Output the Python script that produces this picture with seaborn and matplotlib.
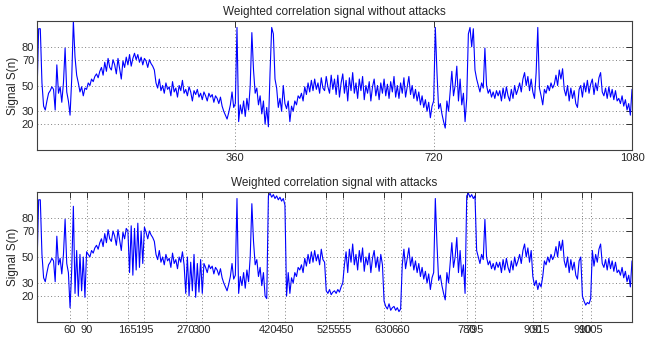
import numpy as np
import pandas as pd
import matplotlib
matplotlib.use("Agg")
import matplotlib.pyplot as plt
import seaborn as sns

# sample positions n (every 3 samples, 0..1080)
n_values = list(range(0, 1081, 3))

# weighted correlation signal without attacks
signal_clean = [
    43, 94, 94, 52, 34, 31, 38, 44, 46, 49, 47, 31, 66, 44, 49, 37, 52, 79, 45, 38,
    27, 55, 100, 72, 58, 52, 45, 49, 42, 48, 47, 52, 50, 55, 53, 57, 59, 56, 61, 64,
    58, 68, 61, 71, 64, 62, 70, 66, 59, 71, 63, 55, 69, 64, 72, 66, 74, 65, 71, 75,
    70, 74, 68, 72, 66, 71, 69, 64, 70, 67, 65, 62, 52, 48, 55, 46, 50, 44, 52, 47,
    49, 42, 53, 45, 48, 41, 50, 46, 54, 44, 47, 42, 49, 45, 38, 46, 43, 47, 41, 44,
    39, 45, 42, 38, 44, 41, 43, 37, 42, 40, 36, 41, 34, 30, 27, 24, 29, 35, 45, 33,
    36, 95, 22, 35, 28, 38, 26, 40, 31, 50, 91, 62, 44, 48, 35, 42, 28, 38, 20, 33,
    18, 60, 95, 90, 55, 48, 33, 40, 30, 50, 36, 32, 38, 22, 34, 30, 38, 35, 42, 40,
    44, 38, 49, 43, 52, 45, 54, 46, 55, 47, 52, 44, 56, 48, 46, 57, 49, 44, 58, 47,
    55, 43, 58, 41, 52, 59, 44, 54, 38, 56, 46, 60, 44, 52, 40, 55, 46, 57, 39, 50,
    44, 53, 38, 49, 55, 42, 50, 39, 52, 44, 55, 42, 51, 40, 53, 45, 57, 41, 50, 40,
    52, 44, 56, 41, 49, 57, 43, 50, 40, 47, 38, 45, 35, 42, 33, 39, 30, 37, 25, 34,
    38, 95, 60, 32, 36, 28, 22, 17, 38, 30, 45, 61, 42, 50, 65, 38, 55, 35, 44, 22,
    40, 90, 95, 80, 94, 62, 55, 50, 45, 52, 48, 79, 50, 44, 47, 41, 45, 40, 46, 42,
    46, 38, 48, 40, 49, 42, 38, 47, 40, 50, 43, 47, 52, 45, 55, 60, 50, 57, 46, 55,
    45, 40, 60, 95, 48, 42, 35, 47, 44, 50, 46, 52, 48, 51, 58, 50, 62, 55, 63, 47,
    42, 50, 38, 48, 40, 46, 36, 33, 47, 50, 41, 52, 45, 54, 44, 51, 55, 43, 52, 46,
    56, 60, 45, 42, 48, 40, 49, 41, 47, 39, 46, 38, 40, 36, 42, 34, 39, 31, 36, 27,
    47,
]

# attacked segments: start sample and values (every 3 samples)
attack_starts = [60, 165, 270, 417, 525, 630, 780, 900, 990]
attack_values = [
    [11, 40, 89, 22, 55, 20, 52, 24, 50, 19, 54],
    [70, 38, 74, 36, 72, 40, 76, 42, 70, 45, 73],
    [22, 50, 20, 46, 24, 52, 19, 45, 23, 48, 22],
    [18, 97, 99, 96, 98, 95, 97, 94, 96, 93, 95, 90, 20],
    [24, 22, 25, 21, 23, 24, 22, 25, 23, 27, 30],
    [16, 12, 10, 14, 9, 11, 12, 9, 11, 8, 10],
    [97, 99, 96, 98, 95, 97],
    [35, 28, 32, 25, 30, 27],
    [20, 16, 13, 15, 14, 18],
]

top_ticks = [360, 720, 1080]
bottom_ticks = [60, 90, 165, 195, 270, 300, 420, 450, 525, 555,
                630, 660, 780, 795, 900, 915, 990, 1005]
y_ticks = [20, 30, 50, 70, 80]

signal_attacked = list(signal_clean)
for start, vals in zip(attack_starts, attack_values):
    i0 = n_values.index(start)
    for k, v in enumerate(vals):
        signal_attacked[i0 + k] = v

df_clean = pd.DataFrame({"n": n_values, "S": signal_clean})
df_att = pd.DataFrame({"n": n_values, "S": signal_attacked})

sns.set_style("white")
plt.rcParams["font.family"] = ["Liberation Sans", "DejaVu Sans"]

fig = plt.figure(figsize=(6.45, 3.49), dpi=100)
ax1 = fig.add_axes([37 / 645, 1 - 150 / 349, 595 / 645, 129 / 349])
ax2 = fig.add_axes([37 / 645, 1 - 322 / 349, 595 / 645, 130 / 349])

panels = [
    (ax1, df_clean, top_ticks, "Weighted correlation signal without attacks"),
    (ax2, df_att, bottom_ticks, "Weighted correlation signal with attacks"),
]
for ax, df, xt, title in panels:
    sns.lineplot(data=df, x="n", y="S", ax=ax, color="#0000ff",
                 linewidth=0.8, estimator=None, sort=False)
    ax.set_xlim(0, 1080)
    ax.set_ylim(0, 100)
    ax.set_xticks(xt)
    ax.set_yticks(y_ticks)
    ax.set_xticklabels([str(t) for t in xt], fontsize=8)
    ax.set_yticklabels([str(t) for t in y_ticks], fontsize=8)
    ax.set_xlabel("")
    ax.set_ylabel("Signal S(n)", fontsize=8.5, labelpad=2)
    ax.set_title(title, fontsize=8.5, pad=4)
    ax.grid(True, linestyle=(0, (1, 2.5)), color="#808080", linewidth=0.7)
    ax.tick_params(direction="in", length=4, width=0.7, top=True, right=True,
                   color="#303030", pad=2)
    for sp in ax.spines.values():
        sp.set_color("#404040")
        sp.set_linewidth(0.8)

fig.savefig("out.png", dpi=100, facecolor="white")
